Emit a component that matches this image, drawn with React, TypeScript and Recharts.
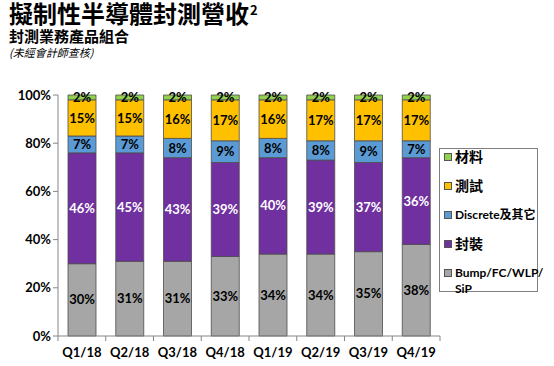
import { BarChart, Bar, XAxis, YAxis, LabelList, Legend } from "recharts";

const quarters = ["Q1/18", "Q2/18", "Q3/18", "Q4/18", "Q1/19", "Q2/19", "Q3/19", "Q4/19"];
const bump = [30, 31, 31, 33, 34, 34, 35, 38];
const packaging = [46, 45, 43, 39, 40, 39, 37, 36];
const discrete = [7, 7, 8, 9, 8, 8, 9, 7];
const testing = [15, 15, 16, 17, 16, 17, 17, 17];
const material = [2, 2, 2, 2, 2, 2, 2, 2];
const yTicks = [0, 20, 40, 60, 80, 100];

const series = [
  { key: "bump", name: "Bump/FC/WLP/SiP", color: "#a6a6a6", text: "#000" },
  { key: "packaging", name: "封裝", color: "#7030a0", text: "#fff" },
  { key: "discrete", name: "Discrete及其它", color: "#5b9bd5", text: "#000" },
  { key: "testing", name: "測試", color: "#ffc000", text: "#000" },
  { key: "material", name: "材料", color: "#92d050", text: "#000" },
];

const data = quarters.map((q, i) => ({
  q,
  bump: bump[i],
  packaging: packaging[i],
  discrete: discrete[i],
  testing: testing[i],
  material: material[i],
}));

const FONT = "Lato, 'Noto Sans CJK TC', sans-serif";
const CJK = "'Noto Sans CJK TC', sans-serif";
const axisColor = "#868686";
const PLOT_LEFT = 58;
const PLOT_RIGHT = 440;
const band = (PLOT_RIGHT - PLOT_LEFT) / quarters.length;

function XTick(props: any) {
  const { x, y, payload, index } = props;
  return (
    <g>
      <line x1={x - band / 2} y1={y - 8} x2={x - band / 2} y2={y - 3} stroke={axisColor} />
      {index === quarters.length - 1 && (
        <line x1={x + band / 2} y1={y - 8} x2={x + band / 2} y2={y - 3} stroke={axisColor} />
      )}
      <text x={x} y={y + 13} textAnchor="middle" fontFamily={FONT} fontWeight="bold" fontSize={13} fill="#000">
        {payload.value}
      </text>
    </g>
  );
}

function LegendBox() {
  return (
    <div
      style={{
        width: 97,
        height: 142,
        border: "1px solid #7f7f7f",
        background: "#fff",
        fontFamily: FONT,
        fontWeight: "bold",
        fontSize: 12,
        color: "#000",
        position: "relative",
      }}
    >
      {[...series].reverse().map((s, i) => (
        <div
          key={s.key}
          style={{
            position: "absolute",
            left: 4,
            top: 0 + i * 29,
            display: "flex",
            alignItems: "flex-start",
            lineHeight: "16px",
          }}
        >
          <span
            style={{
              display: "inline-block",
              width: 6,
              height: 6,
              background: s.color,
              border: "1px solid #555",
              marginTop: 4,
              marginRight: 3,
              flexShrink: 0,
            }}
          />
          <span style={{ whiteSpace: "pre", fontSize: s.key === "material" || s.key === "testing" || s.key === "packaging" ? 14 : 12 }}>
            {s.key === "bump" ? "Bump/FC/WLP/\nSiP" : s.name}
          </span>
        </div>
      ))}
    </div>
  );
}

export default function App() {
  return (
    <div style={{ position: "absolute", left: 0, top: 0, width: 554, height: 366, background: "#fff" }}>
      <div
        style={{
          position: "absolute",
          left: 9,
          top: 0,
          fontFamily: CJK,
          fontWeight: "bold",
          fontSize: 24,
          lineHeight: "26px",
          color: "#000",
          whiteSpace: "nowrap",
        }}
      >
        擬制性半導體封測營收
        <span style={{ fontSize: 13, position: "relative", top: -8, marginLeft: 1 }}>2</span>
      </div>
      <div
        style={{
          position: "absolute",
          left: 9,
          top: 27,
          fontFamily: CJK,
          fontWeight: "bold",
          fontSize: 15,
          lineHeight: "18px",
          color: "#000",
        }}
      >
        封測業務產品組合
      </div>
      <div
        style={{
          position: "absolute",
          left: 9,
          top: 45,
          fontFamily: CJK,
          fontStyle: "italic",
          fontSize: 11,
          lineHeight: "14px",
          color: "#000",
        }}
      >
        (未經會計師查核)
      </div>
      <BarChart
        width={554}
        height={366}
        data={data}
        margin={{ top: 95, right: 554 - PLOT_RIGHT, bottom: 0, left: 0 }}
        style={{ position: "absolute", left: 0, top: 0 }}
      >
        <XAxis
          dataKey="q"
          stroke={axisColor}
          tickLine={false}
          height={30}
          tick={<XTick />}
          interval={0}
        />
        <YAxis
          width={PLOT_LEFT}
          domain={[0, 100]}
          ticks={yTicks}
          stroke={axisColor}
          tickSize={5}
          tickFormatter={(v: number) => `${v}%`}
          tick={{ fill: "#000", fontFamily: FONT, fontWeight: "bold", fontSize: 13 }}
        />
        <Legend
          layout="vertical"
          align="center"
          verticalAlign="middle"
          wrapperStyle={{ left: 439, top: 148, width: 99, height: 144 }}
          content={() => <LegendBox />}
        />
        {series.map((s) => (
          <Bar
            key={s.key}
            dataKey={s.key}
            name={s.name}
            stackId="a"
            fill={s.color}
            stroke="#4d4d4d"
            strokeWidth={0.8}
            barSize={28}
            isAnimationActive={false}
          >
            <LabelList
              dataKey={s.key}
              position="center"
              formatter={(v: any) => `${v}%`}
              fill={s.text}
              style={{ fontFamily: FONT, fontWeight: "bold", fontSize: 13 }}
            />
          </Bar>
        ))}
      </BarChart>
    </div>
  );
}
